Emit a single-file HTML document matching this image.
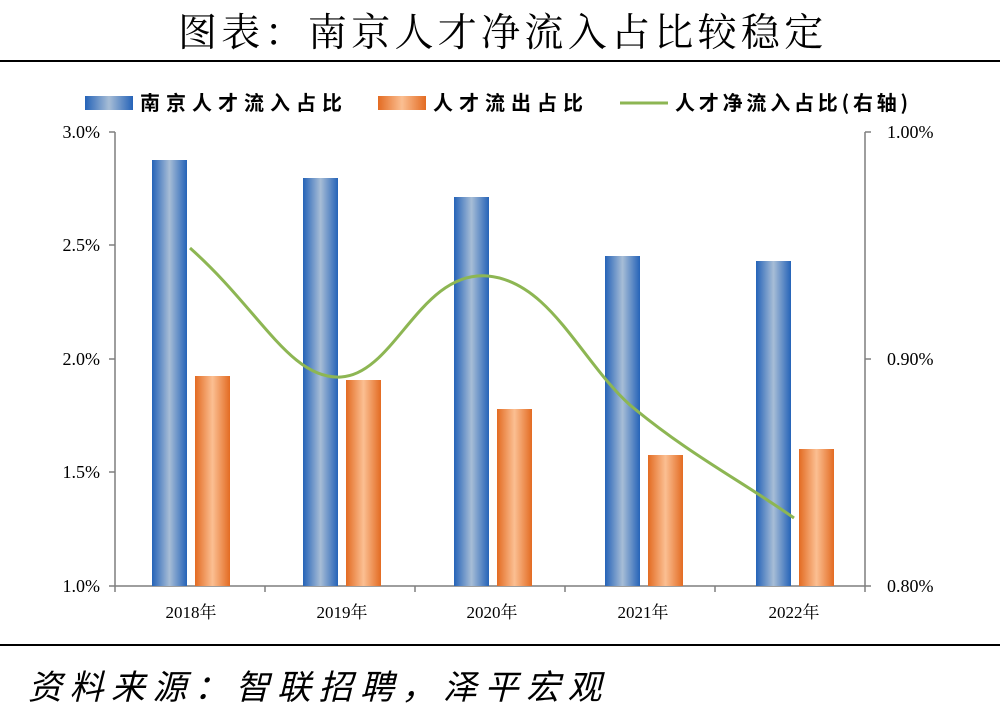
<!DOCTYPE html>
<html><head><meta charset="utf-8"><style>
body{margin:0;background:#fff;width:1000px;height:719px;overflow:hidden}
</style></head><body>
<svg width="1000" height="719" xmlns="http://www.w3.org/2000/svg" font-family="'Liberation Serif','Noto Serif CJK SC',serif">
<defs>
<linearGradient id="b" x1="0" x2="1" y1="0" y2="0">
<stop offset="0" stop-color="#2563b8"/><stop offset="0.5" stop-color="#a7bdd6"/><stop offset="1" stop-color="#2563b8"/></linearGradient>
<linearGradient id="o" x1="0" x2="1" y1="0" y2="0">
<stop offset="0" stop-color="#e36b22"/><stop offset="0.5" stop-color="#fbbf92"/><stop offset="1" stop-color="#e36b22"/></linearGradient>
</defs>
<text x="178" y="46" font-size="39" font-family="'Noto Serif CJK SC',serif" letter-spacing="4.3">图表：南京人才净流入占比较稳定</text>
<line x1="0" y1="61" x2="1000" y2="61" stroke="#000" stroke-width="2"/>
<!-- legend -->
<rect x="85" y="96" width="48" height="14" fill="url(#b)"/>
<text x="140" y="110" font-size="20" font-weight="bold" font-family="'Noto Sans CJK SC',sans-serif" letter-spacing="6">南京人才流入占比</text>
<rect x="378" y="96" width="48" height="14" fill="url(#o)"/>
<text x="433" y="110" font-size="20" font-weight="bold" font-family="'Noto Sans CJK SC',sans-serif" letter-spacing="6">人才流出占比</text>
<line x1="620" y1="103" x2="668" y2="103" stroke="#8db653" stroke-width="3"/>
<text x="675" y="110" font-size="20" font-weight="bold" font-family="'Noto Sans CJK SC',sans-serif" letter-spacing="3.8">人才净流入占比(右轴)</text>
<!-- axes -->
<g stroke="#7f7f7f" stroke-width="1.5" fill="none">
<line x1="115" y1="132" x2="115" y2="586"/><line x1="865" y1="132" x2="865" y2="586"/>
<line x1="115" y1="586" x2="865" y2="586"/>
<line x1="109" y1="132" x2="115" y2="132"/><line x1="109" y1="245" x2="115" y2="245"/><line x1="109" y1="359" x2="115" y2="359"/><line x1="109" y1="472" x2="115" y2="472"/><line x1="109" y1="586" x2="115" y2="586"/>
<line x1="865" y1="132" x2="871" y2="132"/><line x1="865" y1="359" x2="871" y2="359"/><line x1="865" y1="586" x2="871" y2="586"/>
<line x1="265" y1="586" x2="265" y2="592"/><line x1="415" y1="586" x2="415" y2="592"/><line x1="565" y1="586" x2="565" y2="592"/><line x1="715" y1="586" x2="715" y2="592"/><line x1="115" y1="586" x2="115" y2="592"/><line x1="865" y1="586" x2="865" y2="592"/>
</g>
<g font-size="18" text-anchor="end">
<text x="100" y="138">3.0%</text><text x="100" y="251">2.5%</text><text x="100" y="365">2.0%</text><text x="100" y="478">1.5%</text><text x="100" y="592">1.0%</text>
</g>
<g font-size="18">
<text x="887" y="138">1.00%</text><text x="887" y="365">0.90%</text><text x="887" y="592">0.80%</text>
</g>
<g font-size="17" text-anchor="middle">
<text x="191" y="618">2018年</text><text x="342" y="618">2019年</text><text x="492" y="618">2020年</text><text x="643" y="618">2021年</text><text x="794" y="618">2022年</text>
</g>
<!-- bars -->
<rect x="152" y="160" width="35" height="426" fill="url(#b)"/>
<rect x="195" y="376" width="35" height="210" fill="url(#o)"/>
<rect x="303" y="178" width="35" height="408" fill="url(#b)"/>
<rect x="346" y="380" width="35" height="206" fill="url(#o)"/>
<rect x="454" y="197" width="35" height="389" fill="url(#b)"/>
<rect x="497" y="409" width="35" height="177" fill="url(#o)"/>
<rect x="605" y="256" width="35" height="330" fill="url(#b)"/>
<rect x="648" y="455" width="35" height="131" fill="url(#o)"/>
<rect x="756" y="261" width="35" height="325" fill="url(#b)"/>
<rect x="799" y="449" width="35" height="137" fill="url(#o)"/>
<path d="M190,248 C260,310 290,380 341,377 C395,374 420,270 488,276 C550,282 580,360 630,405 C690,455 740,480 794,518" fill="none" stroke="#8db653" stroke-width="3"/>
<line x1="0" y1="645" x2="1000" y2="645" stroke="#000" stroke-width="2"/>
<text x="28" y="699" font-size="34" font-style="italic" font-family="'Noto Sans CJK SC',sans-serif" letter-spacing="7.5">资料来源：智联招聘，泽平宏观</text>
</svg>
</body></html>
